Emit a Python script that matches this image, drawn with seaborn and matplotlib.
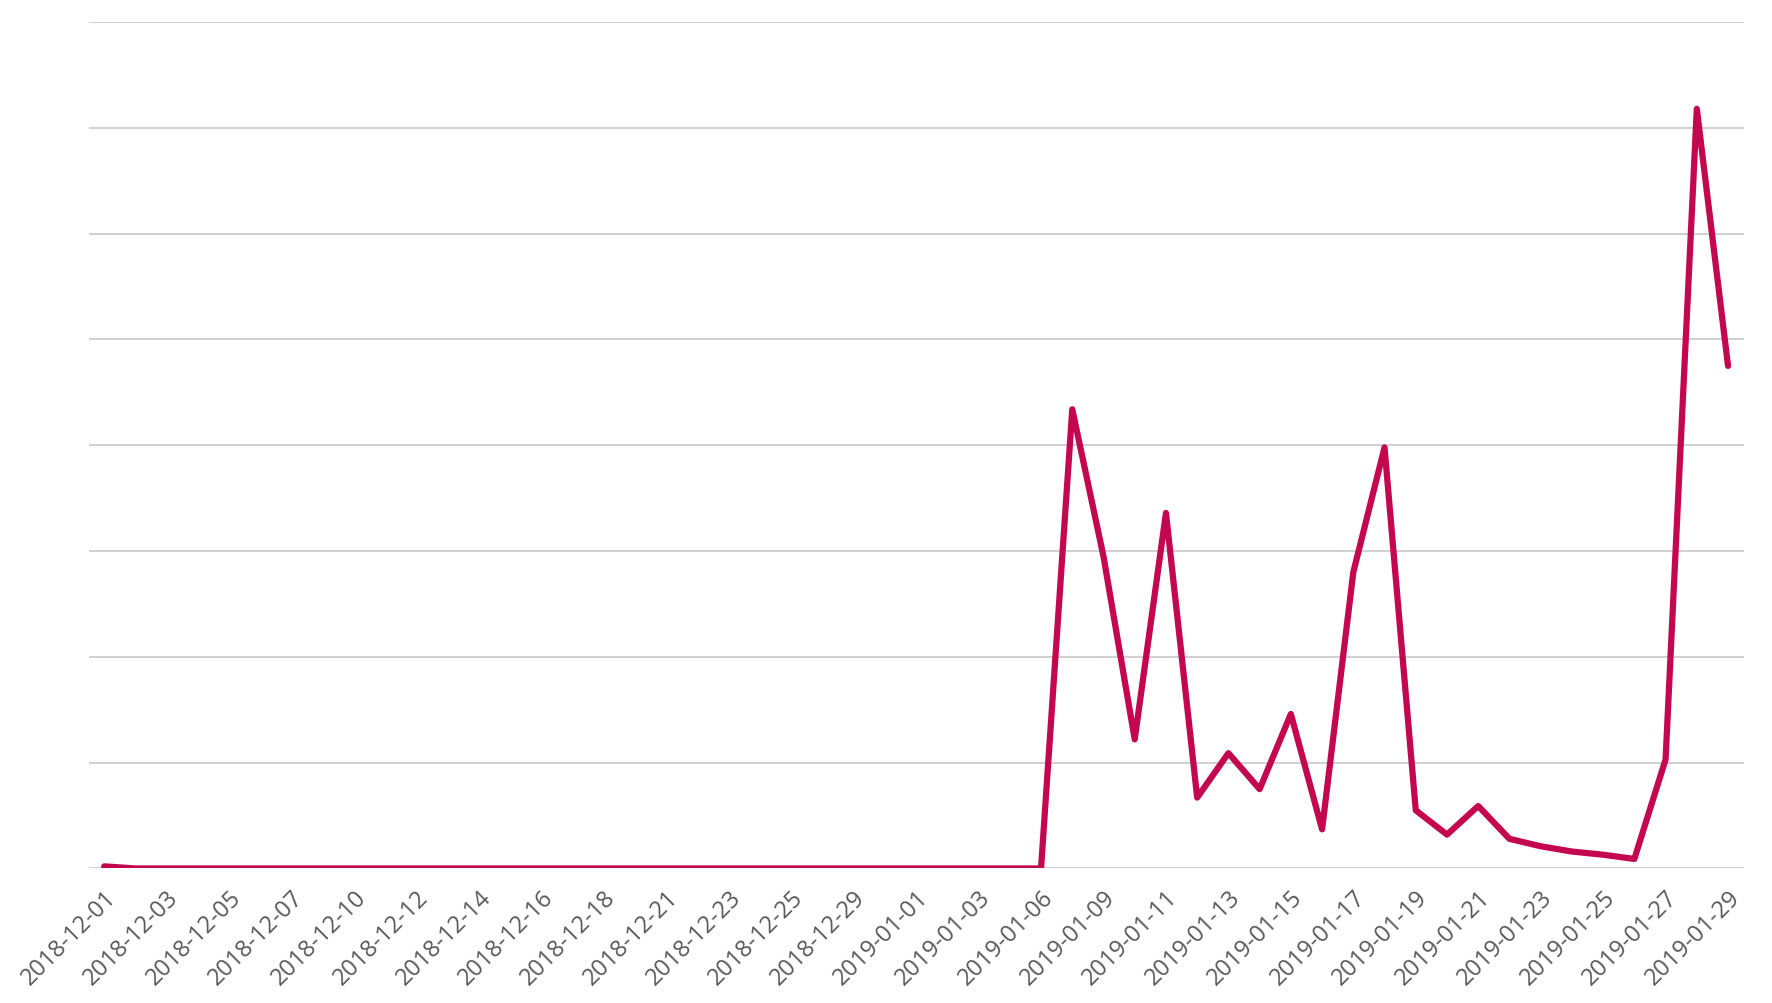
import matplotlib
matplotlib.use("Agg")
import matplotlib.pyplot as plt
import seaborn as sns
import pandas as pd

# dates shown on the category axis (every other one is labelled)
dates = [
    "2018-12-01", "2018-12-02", "2018-12-03", "2018-12-04", "2018-12-05", "2018-12-06",
    "2018-12-07", "2018-12-09", "2018-12-10", "2018-12-11", "2018-12-12", "2018-12-13",
    "2018-12-14", "2018-12-15", "2018-12-16", "2018-12-17", "2018-12-18", "2018-12-20",
    "2018-12-21", "2018-12-22", "2018-12-23", "2018-12-24", "2018-12-25", "2018-12-27",
    "2018-12-29", "2018-12-31", "2019-01-01", "2019-01-02", "2019-01-03", "2019-01-05",
    "2019-01-06", "2019-01-08", "2019-01-09", "2019-01-10", "2019-01-11", "2019-01-12",
    "2019-01-13", "2019-01-14", "2019-01-15", "2019-01-16", "2019-01-17", "2019-01-18",
    "2019-01-19", "2019-01-20", "2019-01-21", "2019-01-22", "2019-01-23", "2019-01-24",
    "2019-01-25", "2019-01-26", "2019-01-27", "2019-01-28", "2019-01-29",
]
values = [
    0.02, 0, 0, 0, 0, 0, 0, 0, 0, 0, 0, 0, 0, 0, 0, 0, 0, 0, 0, 0,
    0, 0, 0, 0, 0, 0, 0, 0, 0, 0, 0,
    4.34, 2.95, 1.22, 3.36, 0.67, 1.09, 0.75, 1.46, 0.37, 2.8, 3.98,
    0.55, 0.32, 0.59, 0.28, 0.21, 0.16, 0.13, 0.09, 1.03, 7.18, 4.75,
]
df = pd.DataFrame({"date": dates, "value": values})

sns.set_style("white")
plt.rcParams["font.family"] = ["Open Sans", "DejaVu Sans"]

fig = plt.figure(figsize=(17.72, 10.04), dpi=100)
ax = fig.add_axes([0.050, 0.134, 0.934, 0.843])

sns.lineplot(data=df, x="date", y="value", color="#C4084F", linewidth=4.5, ax=ax, zorder=3)

ax.set_ylim(0, 8)
ax.set_yticks(range(9))
ax.set_yticklabels([])
ax.yaxis.grid(True, color="#D0D0D0", linewidth=1.4)
ax.xaxis.grid(False)
ax.set_xlim(-0.5, len(dates) - 0.5)
ax.set_xticks(range(0, len(dates), 2))
ax.set_xticklabels(dates[::2], rotation=45, ha="right", rotation_mode="anchor",
                   fontsize=17, color="#595959")
ax.tick_params(axis="both", length=0, pad=12)
ax.set_xlabel("")
ax.set_ylabel("")
for s in ax.spines.values():
    s.set_visible(False)

fig.savefig("out.png", dpi=100)
